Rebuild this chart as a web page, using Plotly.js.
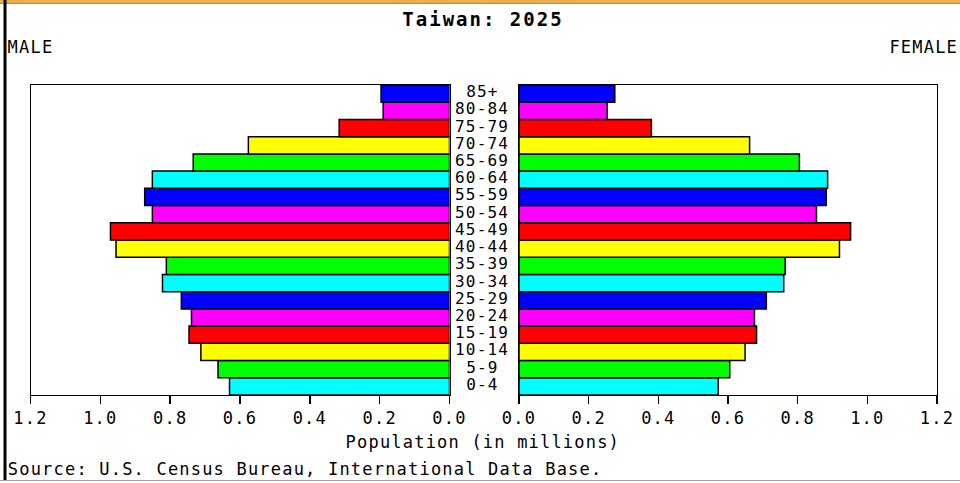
<!DOCTYPE html>
<html>
<head>
<meta charset="utf-8">
<script src="https://cdn.plot.ly/plotly-3.0.1.min.js"></script>
<style>
html, body { margin: 0; padding: 0; background: #ffffff; }
#chart { width: 960px; height: 483px; }
.main-svg text { letter-spacing: 1.2px; }
.gtitle { letter-spacing: 2px !important; }
</style>
</head>
<body>
<div id="chart"></div>
<script>
// Age groups, bottom to top
const ageGroups = ["0-4","5-9","10-14","15-19","20-24","25-29","30-34","35-39","40-44",
                   "45-49","50-54","55-59","60-64","65-69","70-74","75-79","80-84","85+"];
// Population in millions
const male   = [0.630,0.663,0.712,0.746,0.739,0.768,0.822,0.811,0.955,
                0.971,0.851,0.873,0.851,0.734,0.576,0.316,0.190,0.196];
const female = [0.572,0.605,0.649,0.682,0.676,0.710,0.760,0.764,0.920,
                0.952,0.854,0.882,0.886,0.805,0.662,0.380,0.253,0.275];
const tickValues = [0, 0.2, 0.4, 0.6, 0.8, 1.0, 1.2];
const titleText = "Taiwan: 2025";
const axisTitle = "Population (in millions)";
const sourceText = "Source: U.S. Census Bureau, International Data Base.";

const palette = ["#00FFFF","#00FF00","#FFFF00","#FF0000","#FF00FF","#0000FF"];
const barColors = ageGroups.map((_, i) => palette[i % palette.length]);

const W = 960, H = 483;
const px = v => v / W;
const py = v => 1 - v / H;

const font = "DejaVu Sans Mono, Liberation Mono, monospace";

const traces = [
  {
    type: "bar", orientation: "h", y: ageGroups, x: male,
    xaxis: "x", yaxis: "y", width: 1,
    marker: { color: barColors, line: { color: "#000000", width: 1.5 } },
    hoverinfo: "none", showlegend: false
  },
  {
    type: "bar", orientation: "h", y: ageGroups, x: female,
    xaxis: "x2", yaxis: "y2", width: 1,
    marker: { color: barColors, line: { color: "#000000", width: 1.5 } },
    hoverinfo: "none", showlegend: false
  }
];

const axisCommon = {
  showgrid: false, zeroline: false, showline: true, mirror: true,
  linecolor: "#000000", linewidth: 1,
  ticks: "outside", ticklen: 8, tickwidth: 1.5, tickcolor: "#000000",
  tickvals: tickValues, tickformat: ".1f",
  tickfont: { family: font, size: 17, color: "#000000" },
  fixedrange: true
};

const yDomain = [1 - 395 / H, 1 - 85 / H];
const yCommon = {
  type: "category", categoryorder: "array", categoryarray: ageGroups,
  range: [-0.5, ageGroups.length - 0.5],
  showgrid: false, zeroline: false, showline: true, mirror: true,
  linecolor: "#000000", linewidth: 1, showticklabels: false, ticks: "",
  domain: yDomain, fixedrange: true
};

const annotations = ageGroups.map(g => ({
  xref: "paper", yref: "y", x: px(482), y: g, text: g, showarrow: false,
  xanchor: "center", yanchor: "middle", yshift: 2,
  font: { family: font, size: 16, color: "#000000" }
}));

annotations.push(
  { xref: "paper", yref: "paper", x: px(30), y: py(47), text: "MALE", showarrow: false,
    xanchor: "center", yanchor: "middle", font: { family: font, size: 17, color: "#000000" } },
  { xref: "paper", yref: "paper", x: px(923), y: py(47), text: "FEMALE", showarrow: false,
    xanchor: "center", yanchor: "middle", font: { family: font, size: 17, color: "#000000" } },
  { xref: "paper", yref: "paper", x: px(483), y: py(442), text: axisTitle, showarrow: false,
    xanchor: "center", yanchor: "middle", font: { family: font, size: 17, color: "#000000" } },
  { xref: "paper", yref: "paper", x: px(305), y: py(469), text: sourceText, showarrow: false,
    xanchor: "center", yanchor: "middle", font: { family: font, size: 17, color: "#000000" } }
);

const layout = {
  width: W, height: H,
  margin: { l: 0, r: 0, t: 0, b: 0, pad: 0 },
  paper_bgcolor: "#ffffff", plot_bgcolor: "#ffffff",
  title: {
    text: "<b>" + titleText + "</b>",
    font: { family: font, size: 19, color: "#000000" },
    x: px(483), xanchor: "center", y: py(19), yanchor: "middle", xref: "paper", yref: "paper"
  },
  bargap: 0,
  xaxis: Object.assign({}, axisCommon, { domain: [px(30.5), px(449.5)], range: [1.2, 0], anchor: "y" }),
  xaxis2: Object.assign({}, axisCommon, { domain: [px(519), px(937)], range: [0, 1.2], anchor: "y2" }),
  yaxis: Object.assign({}, yCommon, { anchor: "x" }),
  yaxis2: Object.assign({}, yCommon, { anchor: "x2" }),
  annotations: annotations,
  shapes: [
    { type: "rect", xref: "paper", yref: "paper", x0: 0, x1: 1, y0: py(0), y1: py(3),
      fillcolor: "#E8B050", line: { width: 0 }, layer: "above" },
    { type: "line", xref: "paper", yref: "paper", x0: 0, x1: 1, y0: py(3.5), y1: py(3.5),
      line: { color: "#909090", width: 1 } },
    { type: "rect", xref: "paper", yref: "paper", x0: px(3.5), x1: px(6.5), y0: py(480), y1: py(0),
      fillcolor: "#000000", line: { width: 0 } },
    { type: "line", xref: "paper", yref: "paper", x0: 0, x1: 1, y0: py(480.5), y1: py(480.5),
      line: { color: "#A0A0A0", width: 1 } }
  ]
};

Plotly.newPlot("chart", traces, layout, { displayModeBar: false, staticPlot: true });
</script>
</body>
</html>
